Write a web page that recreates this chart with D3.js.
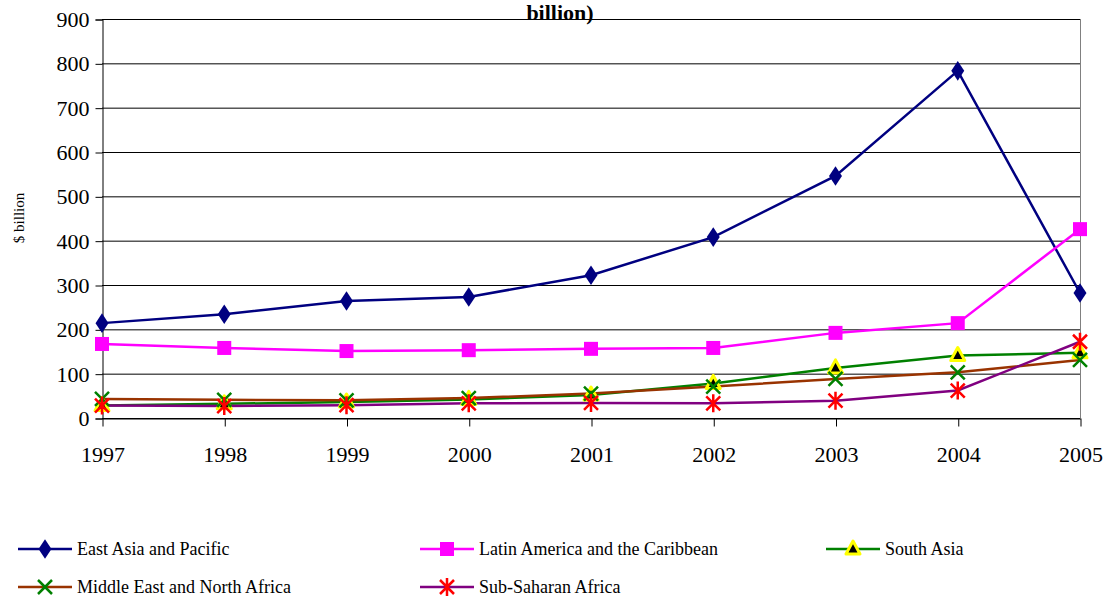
<!DOCTYPE html>
<html>
<head>
<meta charset="utf-8">
<script src="https://cdn.jsdelivr.net/npm/d3@7"></script>
<style>
  body { margin: 0; background: #fff; }
  svg text { font-family: "Times New Roman", "Liberation Serif", "DejaVu Serif", "Noto Serif", Times, serif !important; }
</style>
</head>
<body>
<div id="chart"></div>
<script>
// --- Data ---
const years = ["1997", "1998", "1999", "2000", "2001", "2002", "2003", "2004", "2005"];
const eastAsia = [214, 234, 264, 273, 322, 408, 546, 783, 282];
const latinAmerica = [167, 158, 151, 153, 156, 158, 192, 214, 426];
const southAsia = [28, 32, 36, 42, 52, 78, 113, 141, 147];
const middleEast = [43, 41, 40, 45, 55, 71, 88, 103, 131];
const subSaharan = [28, 27, 29, 33, 34, 33, 39, 62, 172];
const yTicks = [0, 100, 200, 300, 400, 500, 600, 700, 800, 900];

const series = [
    { name: "East Asia and Pacific", values: eastAsia, line: "#000080", marker: "diamond", fill: "#000080", stroke: "#000080" },
    { name: "Latin America and the Caribbean", values: latinAmerica, line: "#ff00ff", marker: "square", fill: "#ff00ff", stroke: "#ff00ff" },
    { name: "South Asia", values: southAsia, line: "#008000", marker: "triangle", fill: "#000000", stroke: "#ffff00" },
    { name: "Middle East and North Africa", values: middleEast, line: "#993300", marker: "x", fill: "none", stroke: "#008000" },
    { name: "Sub-Saharan Africa", values: subSaharan, line: "#800080", marker: "star", fill: "none", stroke: "#ff0000" }
];

const width = 1112;
const height = 601;
const plot = { left: 102, right: 1080, top: 19, bottom: 418 };

const svg = d3.select("#chart").append("svg")
    .attr("width", width)
    .attr("height", height);

const x = d3.scalePoint()
    .domain(years)
    .range([plot.left, plot.right]);

const y = d3.scaleLinear()
    .domain([0, 900])
    .range([plot.bottom, plot.top]);

// Gridlines
svg.append("g")
    .selectAll("line")
    .data(yTicks)
    .join("line")
    .attr("x1", plot.left)
    .attr("x2", plot.right)
    .attr("y1", d => y(d) + 0.5)
    .attr("y2", d => y(d) + 0.5)
    .attr("stroke", "#000")
    .attr("stroke-width", 1);

// Right border of plot area
svg.append("line")
    .attr("x1", plot.right + 0.5)
    .attr("x2", plot.right + 0.5)
    .attr("y1", plot.top)
    .attr("y2", plot.bottom)
    .attr("stroke", "#808080");

// Y axis
const yAxis = svg.append("g")
    .attr("transform", `translate(${plot.left + 0.5},0.5)`)
    .call(d3.axisLeft(y).tickValues(yTicks).tickSize(7).tickPadding(6).tickFormat(d3.format("d")));
yAxis.attr("font-family", null);
yAxis.select(".domain").attr("stroke", "#000");
yAxis.selectAll("text")
    .attr("font-size", 22)
    .attr("fill", "#000");

// X axis
const xAxis = svg.append("g")
    .attr("transform", `translate(0.5,${plot.bottom + 0.5})`)
    .call(d3.axisBottom(x).tickSize(8).tickPadding(20).tickSizeOuter(0));
xAxis.attr("font-family", null);
xAxis.select(".domain").attr("stroke", "#000");
xAxis.selectAll("text")
    .attr("font-size", 22)
    .attr("fill", "#000");

// Title (only the second line is visible in the original)
svg.append("text")
    .attr("x", 560)
    .attr("y", 20)
    .attr("text-anchor", "middle")
    .attr("font-size", 22)
    .attr("font-weight", "bold")
    .text("billion)");

// Y axis label
svg.append("text")
    .attr("transform", "translate(24,218) rotate(-90)")
    .attr("text-anchor", "middle")
    .attr("font-size", 15)
    .text("$ billion");

// Marker drawing
function drawMarker(g, type, cx, cy, s) {
    if (type === "diamond") {
        g.append("path")
            .attr("d", d3.symbol(d3.symbolDiamond, 110)())
            .attr("transform", `translate(${cx},${cy}) scale(1.15,1)`)
            .attr("fill", s.fill);
    } else if (type === "square") {
        g.append("rect")
            .attr("x", cx - 7).attr("y", cy - 7)
            .attr("width", 14).attr("height", 14)
            .attr("fill", s.fill);
    } else if (type === "triangle") {
        g.append("path")
            .attr("d", "M0,-8L7,5L-7,5Z")
            .attr("transform", `translate(${cx},${cy})`)
            .attr("fill", s.fill)
            .attr("stroke", s.stroke)
            .attr("stroke-width", 3)
            .attr("stroke-linejoin", "round");
    } else if (type === "x") {
        g.append("path")
            .attr("d", "M-7,-7L7,7M-7,7L7,-7")
            .attr("transform", `translate(${cx},${cy})`)
            .attr("stroke", s.stroke)
            .attr("stroke-width", 2.5);
    } else if (type === "star") {
        g.append("path")
            .attr("d", "M-7,-7L7,7M-7,7L7,-7M0,-9L0,9")
            .attr("transform", `translate(${cx},${cy})`)
            .attr("stroke", s.stroke)
            .attr("stroke-width", 2.5);
    }
}

const line = d3.line()
    .x((d, i) => x(years[i]))
    .y(d => y(d));

// Lines and markers
series.forEach(s => {
    svg.append("path")
        .datum(s.values)
        .attr("d", line)
        .attr("fill", "none")
        .attr("stroke", s.line)
        .attr("stroke-width", 2.5);
});
series.forEach(s => {
    const g = svg.append("g");
    s.values.forEach((v, i) => drawMarker(g, s.marker, x(years[i]), y(v), s));
});

// Legend
const legendPos = [
    { x: 18, y: 549 }, { x: 420, y: 549 }, { x: 826, y: 549 },
    { x: 18, y: 587 }, { x: 420, y: 587 }
];
series.forEach((s, i) => {
    const p = legendPos[i];
    const g = svg.append("g");
    g.append("line")
        .attr("x1", p.x).attr("x2", p.x + 54)
        .attr("y1", p.y).attr("y2", p.y)
        .attr("stroke", s.line)
        .attr("stroke-width", 2.5);
    drawMarker(g, s.marker, p.x + 27, p.y, s);
    g.append("text")
        .attr("x", p.x + 59)
        .attr("y", p.y + 6)
        .attr("font-size", 18)
        .text(s.name);
});
</script>
</body>
</html>
